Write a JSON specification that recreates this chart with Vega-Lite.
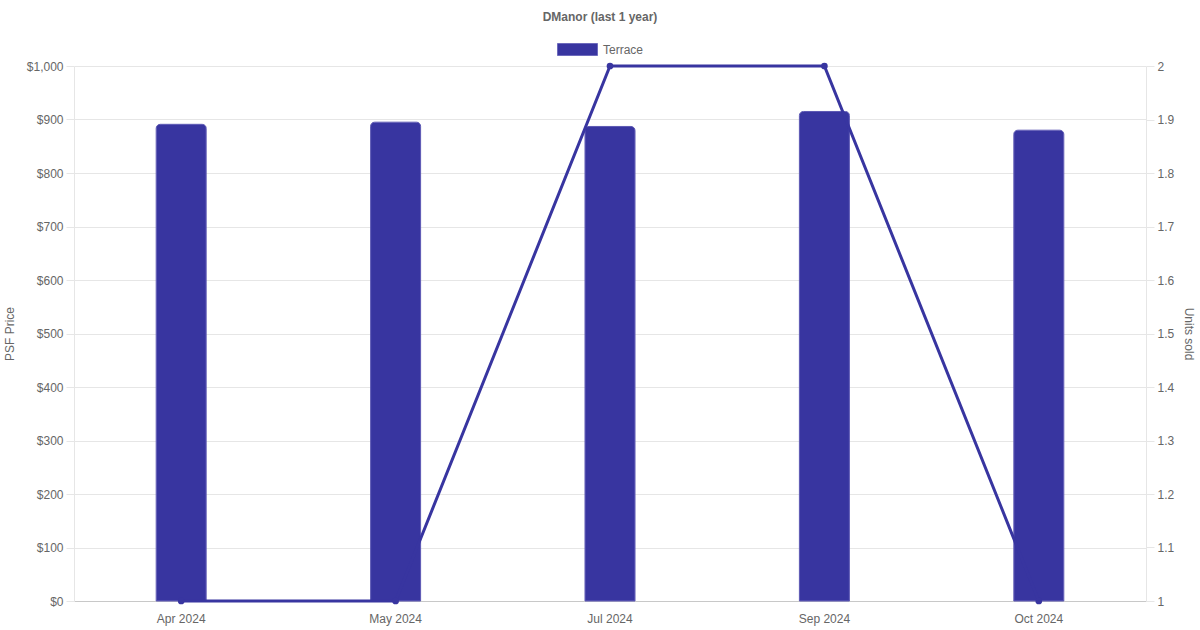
{
  "$schema": "https://vega.github.io/schema/vega-lite/v6.json",
  "width": 1072,
  "height": 535,
  "autosize": "none",
  "padding": {"left": 74, "top": 66, "right": 54, "bottom": 29},
  "background": "white",
  "title": {
    "text": "DManor (last 1 year)",
    "fontSize": 12,
    "fontWeight": "bold",
    "color": "#666666",
    "font": "Liberation Sans",
    "anchor": "middle",
    "frame": "group",
    "dx": -10,
    "offset": 5
  },
  "config": {
    "view": {"stroke": null},
    "font": "Liberation Sans",
    "axis": {
      "labelFont": "Liberation Sans",
      "titleFont": "Liberation Sans",
      "labelFontSize": 12,
      "labelColor": "#666666",
      "titleFontSize": 12,
      "titleFontWeight": "normal",
      "titleColor": "#666666",
      "gridColor": "#e6e6e6",
      "domainColor": "#e6e6e6",
      "tickColor": "#e6e6e6"
    }
  },
  "data": {
    "values": [
      {"month": "Apr 2024", "psf": 891, "units": 1, "type": "Terrace"},
      {"month": "May 2024", "psf": 895, "units": 1, "type": "Terrace"},
      {"month": "Jul 2024", "psf": 887, "units": 2, "type": "Terrace"},
      {"month": "Sep 2024", "psf": 915, "units": 2, "type": "Terrace"},
      {"month": "Oct 2024", "psf": 880, "units": 1, "type": "Terrace"}
    ]
  },
  "encoding": {
    "x": {
      "field": "month",
      "type": "ordinal",
      "sort": null,
      "scale": {"paddingInner": 0, "paddingOuter": 0},
      "axis": {
        "title": null,
        "labelAngle": 0,
        "ticks": false,
        "labelPadding": 12,
        "domainColor": "#c8c8c8",
        "grid": false
      }
    }
  },
  "layer": [
    {
      "mark": {
        "type": "bar",
        "size": 50,
        "cornerRadiusTopLeft": 4,
        "cornerRadiusTopRight": 4,
        "stroke": "#5a56b2",
        "strokeWidth": 1
      },
      "encoding": {
        "y": {
          "field": "psf",
          "type": "quantitative",
          "scale": {"domain": [0, 1000], "nice": false},
          "axis": {
            "title": "PSF Price",
            "values": [0, 100, 200, 300, 400, 500, 600, 700, 800, 900, 1000],
            "format": "$,.0f",
            "tickSize": 8,
            "labelPadding": 3,
            "titlePadding": 10,
            "grid": true
          }
        },
        "color": {
          "field": "type",
          "type": "nominal",
          "scale": {"range": ["#3835a0"]},
          "legend": {
            "title": null,
            "orient": "none",
            "legendX": 483,
            "legendY": -37,
            "padding": 0,
            "symbolType": "M-1,-0.3H1V0.3H-1Z",
            "symbolSize": 1600,
            "symbolStrokeColor": "#6d6abc",
            "symbolStrokeWidth": 1,
            "labelFontSize": 12,
            "labelColor": "#666666",
            "labelFont": "Liberation Sans",
            "labelOffset": 5
          }
        }
      }
    },
    {
      "mark": {
        "type": "line",
        "color": "#3835a0",
        "strokeWidth": 3,
        "point": {"filled": true, "color": "#3835a0", "size": 45}
      },
      "encoding": {
        "y": {
          "field": "units",
          "type": "quantitative",
          "scale": {"domain": [1, 2], "nice": false, "zero": false},
          "axis": {
            "orient": "right",
            "title": "Units sold",
            "values": [1, 1.1, 1.2, 1.3, 1.4, 1.5, 1.6, 1.7, 1.8, 1.9, 2],
            "format": ".2~f",
            "tickSize": 8,
            "labelPadding": 3,
            "titlePadding": 8,
            "grid": false
          }
        }
      }
    }
  ],
  "resolve": {"scale": {"y": "independent", "color": "independent"}}
}
